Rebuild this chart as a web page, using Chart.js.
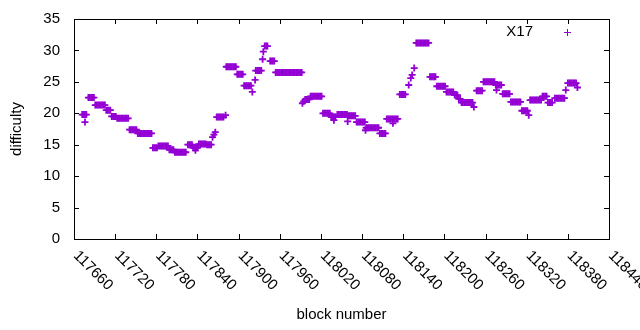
<!DOCTYPE html>
<html>
<head>
<meta charset="utf-8">
<script src="https://cdn.jsdelivr.net/npm/chart.js@4/dist/chart.umd.min.js"></script>
<style>
  body { margin: 0; background: #fff; }
</style>
</head>
<body>
<canvas id="difficultyChart" width="640" height="330"></canvas>
<script>
const seriesName = 'X17';

const blocks = [
    117672, 117674, 117676, 117678,
    117676,
    117681, 117683, 117685, 117687, 117689,
    117691, 117693, 117695, 117697, 117699, 117701, 117703, 117705,
    117707, 117709, 117711, 117713,
    117715, 117717, 117719, 117721,
    117723, 117725, 117727, 117729, 117731, 117733, 117735, 117737, 117739,
    117741, 117743, 117745, 117747, 117749, 117751,
    117753, 117755, 117757, 117759, 117761, 117763, 117765, 117767, 117769, 117771, 117773,
    117775, 117777, 117779, 117781,
    117783, 117785, 117787, 117789, 117791, 117793, 117795, 117797,
    117799, 117801, 117803, 117805,
    117807, 117809, 117811, 117813, 117815, 117817, 117819, 117821, 117823,
    117826, 117828, 117830, 117832,
    117834, 117836, 117838, 117840,
    117837,
    117842, 117844, 117846, 117848, 117850, 117852,
    117854, 117856, 117858, 117860,
    117862, 117864, 117866,
    117868, 117870, 117872, 117874, 117876, 117878,
    117881,
    117882, 117884, 117886, 117888, 117890, 117892, 117894, 117896,
    117898, 117900, 117902, 117904, 117906,
    117908, 117910, 117912, 117914, 117916, 117918,
    117920, 117924,
    117925, 117927, 117929, 117931, 117933,
    117935, 117936,
    117938, 117940, 117942,
    117946, 117948, 117950, 117952,
    117954, 117956, 117958, 117960, 117962, 117964, 117966, 117968, 117970, 117972,
    117974, 117976, 117978, 117980, 117982, 117984, 117986, 117988, 117990, 117992,
    117993, 117995,
    117997, 117999, 118001, 118003,
    118005, 118007, 118009, 118011, 118013, 118015, 118017, 118019, 118021,
    118023, 118025, 118027, 118029, 118031, 118033,
    118035, 118037, 118039, 118041,
    118039,
    118044, 118046, 118048, 118050, 118052, 118054, 118056, 118058,
    118059,
    118060, 118062, 118064, 118066, 118068, 118070,
    118072, 118074, 118076, 118078, 118080, 118082, 118084,
    118085,
    118086, 118088, 118090, 118092, 118094, 118096, 118098, 118100, 118102, 118104,
    118106, 118108, 118110, 118112, 118114,
    118116, 118118, 118120, 118122, 118124, 118126, 118128, 118130, 118132,
    118125,
    118135, 118137, 118139, 118141, 118143,
    118148, 118151, 118153, 118156,
    118159, 118161, 118163, 118165, 118167, 118169, 118171, 118173, 118175, 118177,
    118179, 118181, 118183, 118185, 118187,
    118189, 118191, 118193, 118195, 118197, 118199, 118201,
    118203, 118205, 118207, 118209, 118211, 118213,
    118215, 118217, 118219,
    118221, 118223,
    118225, 118227, 118229, 118231, 118233, 118235, 118237, 118239, 118241,
    118243,
    118247, 118249, 118251, 118253, 118255,
    118257, 118259, 118261, 118263, 118265, 118267, 118269, 118271, 118273,
    118275, 118277, 118279, 118281, 118283,
    118276,
    118285, 118287, 118289, 118291, 118293, 118295,
    118297, 118299, 118301, 118303, 118305, 118307, 118309, 118311,
    118313, 118315, 118317, 118319, 118321,
    118323,
    118325, 118327, 118329, 118331, 118333, 118335, 118337, 118339, 118341,
    118343, 118345, 118347, 118349,
    118351, 118353, 118355, 118357,
    118361, 118363, 118365, 118367, 118369, 118371, 118373, 118375,
    118377,
    118380, 118382, 118384, 118386, 118388, 118390, 118392,
    118394
];

const difficulty = [
    19.8, 19.8, 19.8, 19.8,
    18.6,
    22.5, 22.5, 22.5, 22.5, 22.5,
    21.3, 21.3, 21.3, 21.3, 21.3, 21.3, 21.3, 21.3,
    20.5, 20.5, 20.5, 20.5,
    19.5, 19.5, 19.5, 19.5,
    19.2, 19.2, 19.2, 19.2, 19.2, 19.2, 19.2, 19.2, 19.2,
    17.4, 17.4, 17.4, 17.4, 17.4, 17.4,
    16.8, 16.8, 16.8, 16.8, 16.8, 16.8, 16.8, 16.8, 16.8, 16.8, 16.8,
    14.5, 14.5, 14.5, 14.5,
    14.8, 14.8, 14.8, 14.8, 14.8, 14.8, 14.8, 14.8,
    14.2, 14.2, 14.2, 14.2,
    13.8, 13.8, 13.8, 13.8, 13.8, 13.8, 13.8, 13.8, 13.8,
    15.0, 15.0, 15.0, 15.0,
    14.5, 14.5, 14.5, 14.5,
    14.1,
    15.1, 15.1, 15.1, 15.1, 15.1, 15.1,
    15.0, 15.0, 15.0, 15.0,
    16.2, 16.6, 17.0,
    19.4, 19.4, 19.4, 19.4, 19.4, 19.4,
    19.7,
    27.4, 27.4, 27.4, 27.4, 27.4, 27.4, 27.4, 27.4,
    26.2, 26.2, 26.2, 26.2, 26.2,
    24.4, 24.4, 24.4, 24.4, 24.4, 24.4,
    23.4, 25.3,
    26.8, 26.8, 26.8, 26.8, 26.8,
    28.6, 29.8,
    30.7, 30.7, 30.7,
    28.3, 28.3, 28.3, 28.3,
    26.5, 26.5, 26.5, 26.5, 26.5, 26.5, 26.5, 26.5, 26.5, 26.5,
    26.5, 26.5, 26.5, 26.5, 26.5, 26.5, 26.5, 26.5, 26.5, 26.5,
    21.6, 21.9,
    22.2, 22.2, 22.2, 22.2,
    22.7, 22.7, 22.7, 22.7, 22.7, 22.7, 22.7, 22.7, 22.7,
    20.0, 20.0, 20.0, 20.0, 20.0, 20.0,
    19.4, 19.4, 19.4, 19.4,
    18.9,
    19.8, 19.8, 19.8, 19.8, 19.8, 19.8, 19.8, 19.8,
    18.7,
    19.6, 19.6, 19.6, 19.6, 19.6, 19.6,
    18.6, 18.6, 18.6, 18.6, 18.6, 18.6, 18.6,
    17.3,
    17.7, 17.7, 17.7, 17.7, 17.7, 17.7, 17.7, 17.7, 17.7, 17.7,
    16.8, 16.8, 16.8, 16.8, 16.8,
    19.1, 19.1, 19.1, 19.1, 19.1, 19.1, 19.1, 19.1, 19.1,
    18.4,
    23.0, 23.0, 23.0, 23.0, 23.0,
    24.5, 25.6, 26.1, 27.2,
    31.2, 31.2, 31.2, 31.2, 31.2, 31.2, 31.2, 31.2, 31.2, 31.2,
    25.8, 25.8, 25.8, 25.8, 25.8,
    24.3, 24.3, 24.3, 24.3, 24.3, 24.3, 24.3,
    23.4, 23.4, 23.4, 23.4, 23.4, 23.4,
    22.9, 22.9, 22.9,
    22.3, 22.3,
    21.7, 21.7, 21.7, 21.7, 21.7, 21.7, 21.7, 21.7, 21.7,
    21.0,
    23.6, 23.6, 23.6, 23.6, 23.6,
    25.0, 25.0, 25.0, 25.0, 25.0, 25.0, 25.0, 25.0, 25.0,
    24.5, 24.5, 24.5, 24.5, 24.5,
    23.7,
    23.1, 23.1, 23.1, 23.1, 23.1, 23.1,
    21.8, 21.8, 21.8, 21.8, 21.8, 21.8, 21.8, 21.8,
    20.4, 20.4, 20.4, 20.4, 20.4,
    19.7,
    22.1, 22.1, 22.1, 22.1, 22.1, 22.1, 22.1, 22.1, 22.1,
    22.7, 22.7, 22.7, 22.7,
    21.7, 21.7, 21.7, 21.7,
    22.4, 22.4, 22.4, 22.4, 22.4, 22.4, 22.4, 22.4,
    23.7,
    24.8, 24.8, 24.8, 24.8, 24.8, 24.8, 24.8,
    24.1
];

const xTicks = [117660, 117720, 117780, 117840, 117900, 117960, 118020,
                118080, 118140, 118200, 118260, 118320, 118380, 118440];
const yTicks = [0, 5, 10, 15, 20, 25, 30, 35];

const FONT = '"Liberation Sans", Arial, sans-serif';
const PURPLE = '#9400d3';

// gnuplot style frame: box, inward ticks on all sides, slanted x labels, key inside
const gnuplotFrame = {
    id: 'gnuplotFrame',
    beforeDatasetsDraw(chart) {
        const { ctx, chartArea: a, scales: { x, y } } = chart;
        ctx.save();
        ctx.strokeStyle = '#000';
        ctx.lineWidth = 1;
        ctx.beginPath();
        xTicks.forEach(v => {
            const px = Math.round(x.getPixelForValue(v)) + 0.5;
            ctx.moveTo(px, a.bottom); ctx.lineTo(px, a.bottom - 5);
            ctx.moveTo(px, a.top); ctx.lineTo(px, a.top + 5);
        });
        yTicks.forEach(v => {
            const py = Math.round(y.getPixelForValue(v)) + 0.5;
            ctx.moveTo(a.left, py); ctx.lineTo(a.left + 5, py);
            ctx.moveTo(a.right, py); ctx.lineTo(a.right - 5, py);
        });
        ctx.stroke();
        ctx.strokeRect(a.left + 0.5, a.top + 0.5, a.right - a.left, a.bottom - a.top);

        ctx.fillStyle = '#000';
        ctx.font = '15px ' + FONT;
        ctx.textAlign = 'left';
        ctx.textBaseline = 'top';
        xTicks.forEach(v => {
            ctx.save();
            ctx.translate(x.getPixelForValue(v) + 7, a.bottom + 9);
            ctx.rotate(Math.PI / 4);
            ctx.fillText(String(v), 0, 0);
            ctx.restore();
        });

        // key
        ctx.textAlign = 'right';
        ctx.textBaseline = 'middle';
        ctx.fillText(chart.data.datasets[0].label, a.right - 76, a.top + 13);
        ctx.strokeStyle = PURPLE;
        ctx.beginPath();
        const kx = a.right - 41.5, ky = a.top + 13.5;
        ctx.moveTo(kx - 3.5, ky); ctx.lineTo(kx + 3.5, ky);
        ctx.moveTo(kx, ky - 3.5); ctx.lineTo(kx, ky + 3.5);
        ctx.stroke();
        ctx.restore();
    }
};

new Chart(document.getElementById('difficultyChart').getContext('2d'), {
    type: 'scatter',
    data: {
        datasets: [{
            label: seriesName,
            data: blocks.map((b, i) => ({ x: b, y: difficulty[i] })),
            pointStyle: 'cross',
            pointRadius: 3.5,
            borderWidth: 1.8,
            borderColor: PURPLE,
            backgroundColor: PURPLE
        }]
    },
    options: {
        responsive: false,
        animation: false,
        devicePixelRatio: 1,
        layout: { padding: { top: 19, right: 31, left: 0, bottom: 0 } },
        plugins: {
            legend: { display: false },
            tooltip: { enabled: false }
        },
        scales: {
            x: {
                type: 'linear',
                min: 117660,
                max: 118440,
                ticks: { display: false, stepSize: 60 },
                grid: { display: false, drawTicks: false },
                border: { display: false },
                title: {
                    display: true,
                    text: 'block number',
                    color: '#000',
                    font: { family: FONT, size: 15 },
                    padding: { top: 0, bottom: 6 }
                },
                afterFit: s => { s.height = 91; }
            },
            y: {
                min: 0,
                max: 35,
                ticks: {
                    stepSize: 5,
                    padding: 14,
                    color: '#000',
                    font: { family: FONT, size: 15 }
                },
                grid: { display: false, drawTicks: false },
                border: { display: false },
                title: {
                    display: true,
                    text: 'difficulty',
                    color: '#000',
                    font: { family: FONT, size: 15 },
                    padding: { top: 8, bottom: 0 }
                },
                afterFit: s => {
                    s.width = 74;
                    s.paddingTop = 0;
                    s.paddingBottom = 0;
                }
            }
        }
    },
    plugins: [gnuplotFrame]
});
</script>
</body>
</html>
